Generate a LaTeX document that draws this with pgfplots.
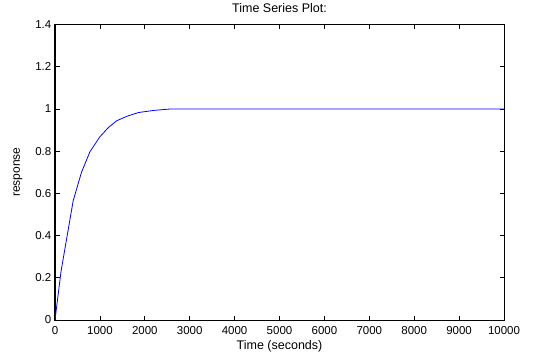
\documentclass[border=0pt]{standalone}
\usepackage{pgfplots}
\pgfplotsset{compat=1.18}
\usepackage{fontspec}
\setmainfont{Liberation Sans}
\begin{document}
\begin{tikzpicture}
\begin{axis}[
  scale only axis,
  width=449pt, height=295.5pt,
  xmin=0, xmax=10000, ymin=0, ymax=1.4,
  xtick={0,1000,...,10000},
  ytick={0,0.2,...,1.4},
  yticklabels={0,0.2,0.4,0.6,0.8,1,1.2,1.4},
  scaled x ticks=false,
  xticklabel style={/pgf/number format/1000 sep={}, anchor=base, yshift=-14pt, inner sep=0pt},
  yticklabel style={anchor=east, inner sep=0pt, xshift=-3.5pt},
  /pgf/number format/assume math mode=true,
  tick align=inside,
  major tick length=4.5pt,
  tick style={black, line width=0.8pt},
  axis line style={black, line width=1pt},
  ticklabel style={font=\fontsize{11.5}{13}\selectfont},
  xlabel={Time (seconds)},
  ylabel={response},
  title={Time Series Plot:},
  xlabel style={font=\fontsize{12.5}{14}\selectfont, at={(axis description cs:0.5,0)}, anchor=base, yshift=-29pt, inner sep=0pt},
  ylabel style={font=\fontsize{12}{14}\selectfont, at={(axis description cs:0,0.5)}, anchor=center, yshift=37pt, inner sep=0pt},
  title style={font=\fontsize{12.5}{14}\selectfont, at={(axis description cs:0.5,1)}, anchor=base, yshift=6.5pt, inner sep=0pt},
]
\addplot[blue, line width=0.8pt] coordinates {
(0,0) (134,0.23) (405,0.565) (590,0.70) (780,0.798) (1000,0.868)
(1190,0.912) (1375,0.944) (1600,0.965) (1860,0.983) (2200,0.993)
(2580,1.0) (10000,1.0)
};
\end{axis}
\path ([xshift=-55pt,yshift=-34pt]current axis.south west) rectangle ([xshift=479pt,yshift=320pt]current axis.south west);
\end{tikzpicture}
\end{document}
